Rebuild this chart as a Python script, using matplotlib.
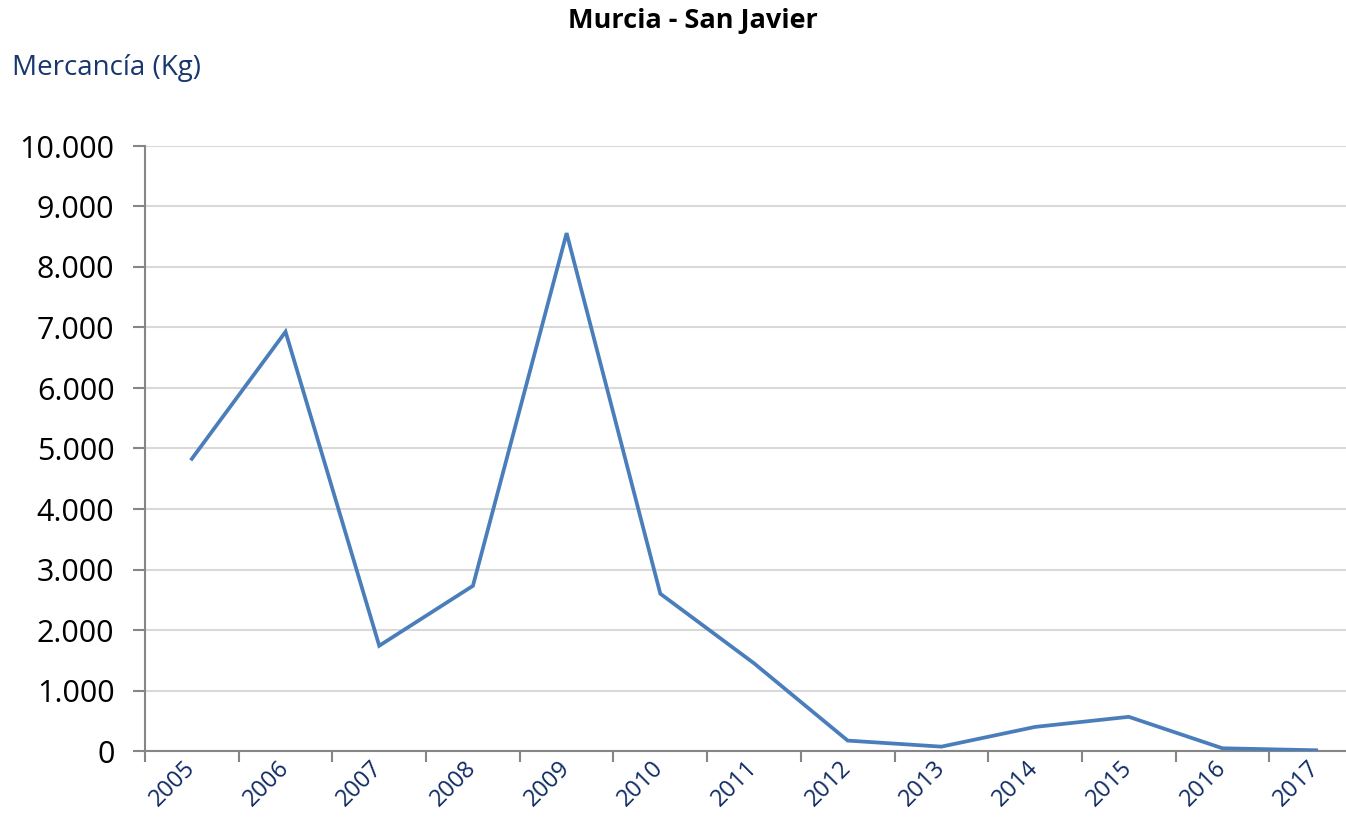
import matplotlib.pyplot as plt
import matplotlib.ticker as mticker
import numpy as np

# Mercancía (Kg) por año, aeropuerto Murcia - San Javier
years = ['2005', '2006', '2007', '2008', '2009', '2010', '2011',
         '2012', '2013', '2014', '2015', '2016', '2017']
cargo_kg = [4830, 6930, 1740, 2730, 8560, 2600, 1450,
            172, 72, 398, 565, 45, 12]
y_ticks = [0, 1000, 2000, 3000, 4000, 5000, 6000, 7000, 8000, 9000, 10000]

plt.rcParams['font.family'] = ['Open Sans', 'DejaVu Sans']

W, H = 1346, 822
fig = plt.figure(figsize=(W / 100, H / 100), dpi=100)
# plot area is slightly wider than the image (cropped on the right)
left, right, bottom, top = 145, 1363, 751, 146
ax = fig.add_axes([left / W, 1 - bottom / H, (right - left) / W, (bottom - top) / H])

x = np.arange(len(years))
ax.plot(x, cargo_kg, color='#4A7EBB', linewidth=2.7, solid_joinstyle='miter',
        zorder=3)

ax.set_xlim(-0.5, len(years) - 0.5)
ax.set_ylim(0, 10000)
ax.set_yticks(y_ticks)
ax.yaxis.set_major_formatter(
    mticker.FuncFormatter(lambda v, p: f'{int(v):,}'.replace(',', '.')))
ax.grid(axis='y', color='#D9D9D9', linewidth=1.5)
ax.set_axisbelow(True)

# category labels centred, tick marks between categories
ax.set_xticks(x)
ax.set_xticklabels(years, rotation=45, ha='right', va='center',
                   rotation_mode='anchor', color='#0F2A63', fontsize=17)
ax.set_xticks(np.arange(-0.5, len(years) + 0.5, 1), minor=True)
ax.tick_params(axis='x', which='major', length=0, pad=10)
ax.tick_params(axis='x', which='minor', length=8, width=1.5, color='#868686',
               direction='out')
ax.tick_params(axis='y', length=9, width=1.5, color='#868686', labelsize=22,
               pad=13)

for s in ['top', 'right']:
    ax.spines[s].set_visible(False)
for s in ['left', 'bottom']:
    ax.spines[s].set_color('#868686')
    ax.spines[s].set_linewidth(1.5)

fig.text(693 / W, 1 - 21 / H, 'Murcia - San Javier', ha='center', va='center',
         fontsize=19.5, fontweight='bold')
fig.text(12 / W, 1 - 68 / H, 'Mercancía (Kg)', ha='left', va='center',
         fontsize=20, color='#17376E')

fig.savefig('out.png', dpi=100)
